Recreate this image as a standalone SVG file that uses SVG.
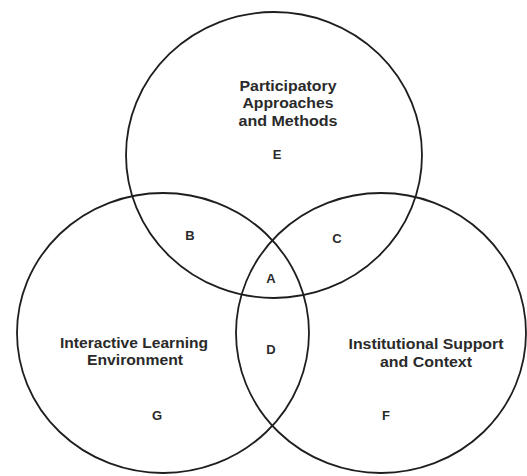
<svg xmlns="http://www.w3.org/2000/svg" width="527" height="476" viewBox="0 0 527 476">
<style>
.c{fill:none;stroke:#1e1e1e;stroke-width:1.8}
.t{font-family:"Liberation Sans",Arial,sans-serif;font-weight:bold;font-size:14px;fill:#2a2a2a;text-anchor:middle}
.l{font-family:"Liberation Sans",Arial,sans-serif;font-weight:bold;font-size:13px;fill:#2a2a2a;text-anchor:middle}
</style>
<rect width="527" height="476" fill="#fff"/>
<g id="connectors"/>
<g id="top">
<ellipse class="c" cx="274" cy="155" rx="148" ry="143"/>
<text class="t" x="288" y="91" textLength="97" lengthAdjust="spacingAndGlyphs">Participatory</text>
<text class="t" x="288" y="108" textLength="91" lengthAdjust="spacingAndGlyphs">Approaches</text>
<text class="t" x="288" y="126" textLength="99" lengthAdjust="spacingAndGlyphs">and Methods</text>
<text class="l" x="277" y="159">E</text>
</g>
<g id="left">
<ellipse class="c" cx="163" cy="333" rx="146" ry="140"/>
<text class="t" x="134" y="348" textLength="148" lengthAdjust="spacingAndGlyphs">Interactive Learning</text>
<text class="t" x="135" y="365" textLength="96" lengthAdjust="spacingAndGlyphs">Environment</text>
<text class="l" x="157" y="420">G</text>
</g>
<g id="right">
<ellipse class="c" cx="381" cy="333" rx="145" ry="140"/>
<text class="t" x="426" y="349" textLength="155" lengthAdjust="spacingAndGlyphs">Institutional Support</text>
<text class="t" x="426" y="367" textLength="92" lengthAdjust="spacingAndGlyphs">and Context</text>
<text class="l" x="386" y="420">F</text>
</g>
<g id="regions">
<text class="l" x="190" y="240">B</text>
<text class="l" x="337" y="243">C</text>
<text class="l" x="271" y="283">A</text>
<text class="l" x="271" y="354">D</text>
</g>
</svg>
